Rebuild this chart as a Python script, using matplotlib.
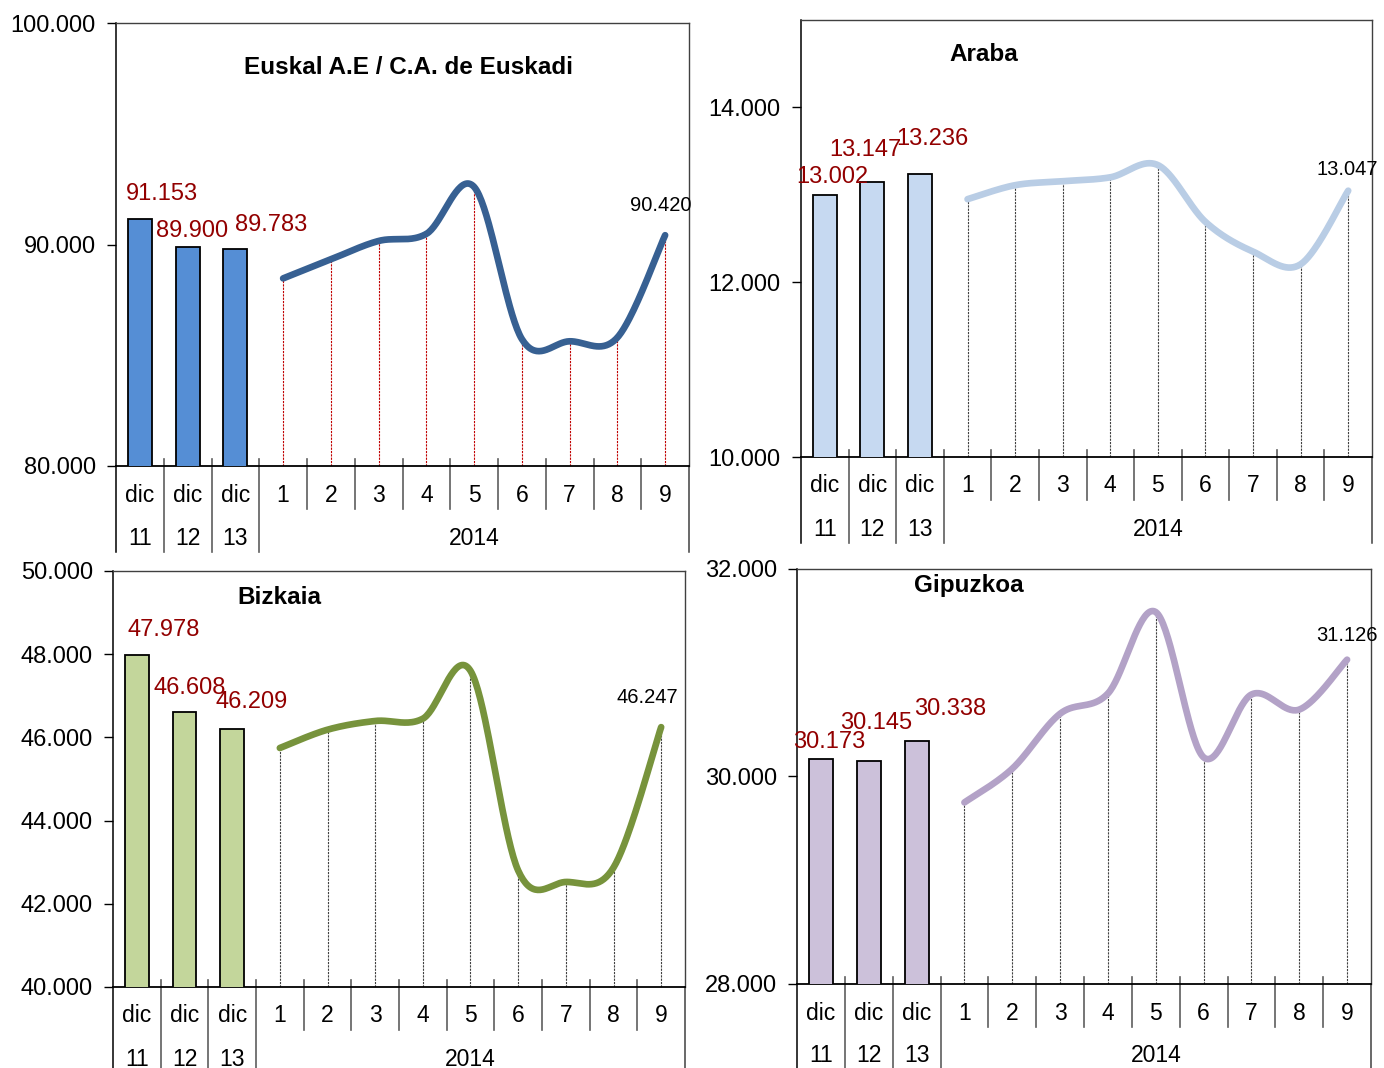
import numpy as np
import matplotlib
matplotlib.use("Agg")
import matplotlib.pyplot as plt
from matplotlib.ticker import FuncFormatter

plt.rcParams['font.family'] = ['Liberation Sans', 'DejaVu Sans']

# categories
cat_top = ["dic", "dic", "dic", "1", "2", "3", "4", "5", "6", "7", "8", "9"]
cat_bottom = ["11", "12", "13"]
year_label = "2014"

# values (dic 11-13 as bars, months 1-9 of 2014 as line)
euskadi_dic = [91153, 89900, 89783]
euskadi_2014 = [88470, 89330, 90160, 90480, 92600, 85730, 85630, 85800, 90420]
araba_dic = [13002, 13147, 13236]
araba_2014 = [12950, 13110, 13155, 13200, 13340, 12690, 12350, 12205, 13047]
bizkaia_dic = [47978, 46608, 46209]
bizkaia_2014 = [45745, 46185, 46395, 46450, 47600, 42800, 42525, 42870, 46247]
gipuzkoa_dic = [30173, 30145, 30338]
gipuzkoa_2014 = [29750, 30075, 30605, 30800, 31585, 30185, 30790, 30645, 31126]

W, H = 1384, 1068
RED = "#920000"


def fmt(v):
    return format(int(round(v)), ",").replace(",", ".")


def smooth(xs, ys, n=40):
    # excel-like smoothed line (catmull-rom as cubic bezier)
    p = np.column_stack([xs, ys]).astype(float)
    p = np.vstack([p[0], p, p[-1]])
    t = np.linspace(0, 1, n)[:, None]
    out = []
    for i in range(1, len(p) - 2):
        p0, p1, p2, p3 = p[i - 1], p[i], p[i + 1], p[i + 2]
        b1 = p1 + (p2 - p0) / 6
        b2 = p2 - (p3 - p1) / 6
        out.append((1 - t) ** 3 * p1 + 3 * (1 - t) ** 2 * t * b1
                   + 3 * (1 - t) * t ** 2 * b2 + t ** 3 * p2)
    return np.vstack(out)


def panel(rect, dic_vals, vals, ylim, step, bar_col, line_col, drop_col,
          title, tpos, offs, last_off):
    l, t, r, b = rect
    ax = fig.add_axes([l / W, 1 - b / H, (r - l) / W, (b - t) / H])
    ah = b - t
    x_dic = np.arange(3)
    x_m = np.arange(3, 12)

    ax.bar(x_dic, dic_vals, width=0.5, color=bar_col, edgecolor="black",
           linewidth=1.3, zorder=3)
    ax.vlines(x_m, ylim[0], vals, colors=drop_col, linewidth=0.8,
              linestyles=(0, (2, 1)), zorder=2)
    sm = smooth(x_m, vals)
    ax.plot(sm[:, 0], sm[:, 1], color=line_col, lw=4.8,
            solid_capstyle="round", zorder=4)

    ax.set_xlim(-0.5, 11.5)
    ax.set_ylim(*ylim)
    ax.set_yticks(np.arange(ylim[0], ylim[1] + 1, step))
    ax.yaxis.set_major_formatter(FuncFormatter(lambda v, p: fmt(v)))
    ax.tick_params(axis="y", length=6.5, width=1, pad=8, labelsize=17)
    ax.set_xticks([])
    for s in ["top", "right"]:
        ax.spines[s].set_color("#404040")
        ax.spines[s].set_linewidth(1)
    ax.spines["left"].set_linewidth(1.1)
    ax.spines["bottom"].set_linewidth(1.3)

    # value labels
    for i, v in enumerate(dic_vals):
        ax.annotate(fmt(v), (i, v), xytext=offs[i], textcoords="offset pixels",
                    ha="center", va="center", fontsize=17, color=RED, zorder=5)
    ax.annotate(fmt(vals[-1]), (11, vals[-1]), xytext=last_off,
                textcoords="offset pixels", ha="center", va="center",
                fontsize=14.5, color="black", zorder=5,
                annotation_clip=False)

    ax.text(tpos[0], tpos[1], title, transform=ax.transAxes, ha="center",
            va="center", fontsize=17.5, fontweight="bold")

    # two level category axis
    tr = ax.get_xaxis_transform()
    for i, lab in enumerate(cat_top):
        ax.text(i, -29 / ah, lab, transform=tr, ha="center", va="center",
                fontsize=16.5, clip_on=False)
    for i, lab in enumerate(cat_bottom):
        ax.text(i, -72 / ah, lab, transform=tr, ha="center", va="center",
                fontsize=16.5, clip_on=False)
    ax.text(7, -72 / ah, year_label, transform=tr, ha="center", va="center",
            fontsize=16.5, clip_on=False)
    for k in range(1, 12):
        xs = k - 0.5
        low = -86 / ah if k <= 3 else -43 / ah
        ax.plot([xs, xs], [7 / ah, low], transform=tr, color="#5e5e5e",
                lw=1.2, clip_on=False, zorder=1)
    for xs, col in [(-0.5, "black"), (11.5, "#404040")]:
        ax.plot([xs, xs], [0, -86 / ah], transform=tr, color=col, lw=1.1,
                clip_on=False)
    return ax


fig = plt.figure(figsize=(W / 100, H / 100), dpi=100)

panel((116, 23, 689, 466), euskadi_dic, euskadi_2014, (80000, 100000), 10000,
      "#558ED5", "#376092", "#C00000", "Euskal A.E / C.A. de Euskadi",
      (0.511, 0.90), [(22, 25), (4, 16), (36, 24)], (-4, 30))
panel((801, 20, 1372, 457), araba_dic, araba_2014, (10000, 15000), 2000,
      "#C6D9F1", "#B9CDE5", "#404040", "Araba",
      (0.320, 0.922), [(8, 18), (-7, 32), (12, 35)], (-1, 21))
panel((113, 571, 685, 987), bizkaia_dic, bizkaia_2014, (40000, 50000), 2000,
      "#C3D69B", "#77933C", "#404040", "Bizkaia",
      (0.290, 0.9375), [(27, 25), (5, 24), (19, 27)], (-14, 30))
panel((797, 569, 1371, 984), gipuzkoa_dic, gipuzkoa_2014, (28000, 32000), 2000,
      "#CCC1DA", "#B3A2C7", "#404040", "Gipuzkoa",
      (0.30, 0.961), [(8, 17), (7, 38), (34, 32)], (0, 24))

fig.savefig("out.png", dpi=100)
